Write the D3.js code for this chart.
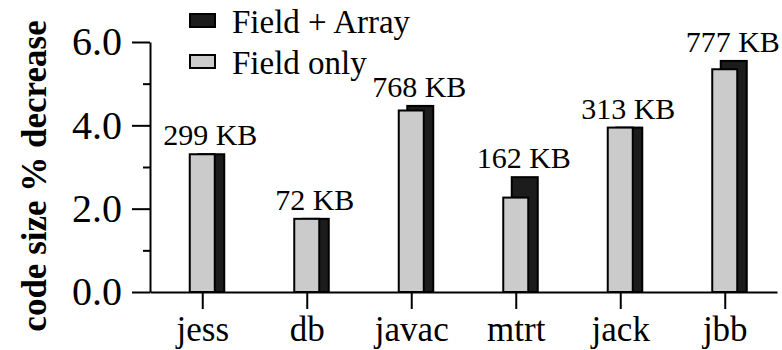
<!DOCTYPE html>
<html>
<head>
<meta charset="utf-8">
<script src="https://cdn.jsdelivr.net/npm/d3@7"></script>
<style>
  body { margin: 0; background: #fff; }
  svg { display: block; font-family: "Liberation Serif", "Times New Roman", serif; }
  .axis path, .axis line { stroke: #000; stroke-width: 2; }
</style>
</head>
<body>
<div id="chart"></div>
<script>
const benchmarks = ["jess", "db", "javac", "mtrt", "jack", "jbb"];
const fieldArray = [3.33, 1.78, 4.49, 2.78, 3.97, 5.57];
const fieldOnly = [3.33, 1.78, 4.38, 2.29, 3.97, 5.37];
const sizeLabels = ["299 KB", "72 KB", "768 KB", "162 KB", "313 KB", "777 KB"];
const majorTicks = [0, 2, 4, 6];
const minorTicks = [1, 3, 5];
const seriesNames = ["Field + Array", "Field only"];

let w = 782;
let h = 350;
let axisLeftX = 150;
let axisRightX = 777;
let dark = "#1c1c1c";
let light = "#cbcbcb";

let x = d3.scalePoint().domain(benchmarks).range([axisLeftX, axisRightX]).padding(0.5);
let y = d3.scaleLinear().domain([0, 6]).range([292, 42]);

let svg = d3.select("#chart").append("svg").attr("width", w).attr("height", h);

// y axis, major and minor ticks
svg.append("g")
  .attr("class", "axis")
  .attr("transform", `translate(${axisLeftX},0)`)
  .call(d3.axisLeft(y).tickValues(majorTicks).tickSize(18).tickSizeOuter(0).tickPadding(10).tickFormat(d3.format(".1f")))
  .call(g => g.attr("font-family", null).attr("font-size", 40))
  .call(g => g.selectAll("text").attr("fill", "#000"));

svg.append("g")
  .attr("class", "axis")
  .attr("transform", `translate(${axisLeftX},0)`)
  .call(d3.axisLeft(y).tickValues(minorTicks).tickSize(7).tickFormat(""))
  .call(g => g.select(".domain").remove());

// x axis
svg.append("g")
  .attr("class", "axis")
  .attr("transform", `translate(0,${y(0)})`)
  .call(d3.axisBottom(x).tickSize(17).tickSizeOuter(0).tickPadding(7))
  .call(g => g.attr("font-family", null).attr("font-size", 35))
  .call(g => g.selectAll("text").attr("fill", "#000"));

svg.append("text")
  .attr("transform", "translate(46,176) rotate(-90)")
  .attr("text-anchor", "middle")
  .attr("font-size", 35)
  .attr("font-weight", "bold")
  .text("code size % decrease");

// bars: dark one sits behind, shifted right
let groups = svg.append("g")
  .selectAll("g")
  .data(benchmarks)
  .join("g")
  .attr("transform", d => `translate(${x(d)},0)`);

groups.append("rect")
  .attr("x", -4)
  .attr("width", 26)
  .attr("y", (d, i) => y(fieldArray[i]) + 1)
  .attr("height", (d, i) => y(0) - y(fieldArray[i]) - 1)
  .attr("fill", dark)
  .attr("stroke", "#000")
  .attr("stroke-width", 2);

groups.append("rect")
  .attr("x", -12.5)
  .attr("width", 25)
  .attr("y", (d, i) => y(fieldOnly[i]) + 1)
  .attr("height", (d, i) => y(0) - y(fieldOnly[i]) - 1)
  .attr("fill", light)
  .attr("stroke", "#000")
  .attr("stroke-width", 2);

groups.append("text")
  .attr("x", 8)
  .attr("y", (d, i) => y(Math.max(fieldArray[i], fieldOnly[i])) - 8)
  .attr("text-anchor", "middle")
  .attr("font-size", 30)
  .text((d, i) => sizeLabels[i]);

// legend
let legend = svg.append("g")
  .selectAll("g")
  .data(seriesNames)
  .join("g")
  .attr("transform", (d, i) => `translate(190,${14 + i * 41})`);

legend.append("rect")
  .attr("width", 25)
  .attr("height", 13)
  .attr("fill", (d, i) => i === 0 ? dark : light)
  .attr("stroke", "#000")
  .attr("stroke-width", 2);

legend.append("text")
  .attr("x", 42)
  .attr("y", 19)
  .attr("font-size", 33)
  .text(d => d);
</script>
</body>
</html>
